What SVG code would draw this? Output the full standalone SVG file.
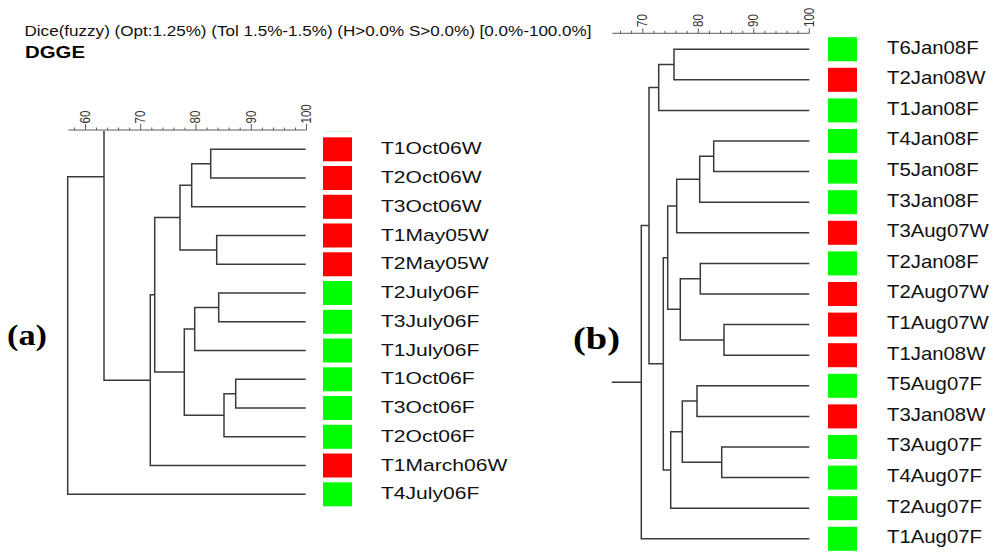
<svg xmlns="http://www.w3.org/2000/svg" width="1000" height="559" viewBox="0 0 1000 559">
<style>
.bg{fill:#ffffff}
.tree{fill:none;stroke:#3a3a3a;stroke-width:1.5}
.axis{fill:none;stroke:#5a5a5a;stroke-width:1}
.tick{font-family:"Liberation Sans",Arial,sans-serif;font-size:11.5px;fill:#333}
.red{fill:#ff0000}
.grn{fill:#00ff00}
.la{font-family:"Liberation Sans",Arial,sans-serif;font-size:17px;fill:#111}
.lb{font-family:"Liberation Sans",Arial,sans-serif;font-size:17.7px;fill:#111}
.hdr{font-family:"Liberation Sans",Arial,sans-serif;font-size:15.4px;fill:#111}
.ttl{font-family:"Liberation Sans",Arial,sans-serif;font-size:17px;font-weight:bold;fill:#000}
.pl{font-family:"Liberation Serif","Times New Roman",serif;font-weight:bold;fill:#000}
</style>
<rect class="bg" x="0" y="0" width="1000" height="559"/>
<g id="header">
<text class="hdr" x="24.5" y="36" textLength="567" lengthAdjust="spacingAndGlyphs">Dice(fuzzy) (Opt:1.25%) (Tol 1.5%-1.5%) (H&gt;0.0% S&gt;0.0%) [0.0%-100.0%]</text>
<text class="ttl" x="25" y="57.5" textLength="60" lengthAdjust="spacingAndGlyphs">DGGE</text>
</g>
<g id="panel-labels">
<text class="pl" x="7" y="345" font-size="29" textLength="40" lengthAdjust="spacingAndGlyphs">(a)</text>
<text class="pl" x="573" y="349" font-size="32" textLength="47" lengthAdjust="spacingAndGlyphs">(b)</text>
</g>
<g id="scale-a">
<path class="axis" d="M68.5,130 H306.5 M74.4,130 v-2.5 M85.5,130 v-6 M96.5,130 v-2.5 M107.6,130 v-2.5 M118.6,130 v-2.5 M129.7,130 v-2.5 M140.7,130 v-6 M151.8,130 v-2.5 M162.9,130 v-2.5 M173.9,130 v-2.5 M185,130 v-2.5 M196,130 v-6 M207.1,130 v-2.5 M218.1,130 v-2.5 M229.2,130 v-2.5 M240.2,130 v-2.5 M251.3,130 v-6 M262.3,130 v-2.5 M273.4,130 v-2.5 M284.4,130 v-2.5 M295.5,130 v-2.5 M306.5,130 v-6"/>
<text class="tick" transform="translate(85.5,123.5) rotate(-90) scale(1,1.2)" y="3.5">60</text>
<text class="tick" transform="translate(140.7,123.5) rotate(-90) scale(1,1.2)" y="3.5">70</text>
<text class="tick" transform="translate(196,123.5) rotate(-90) scale(1,1.2)" y="3.5">80</text>
<text class="tick" transform="translate(251.3,123.5) rotate(-90) scale(1,1.2)" y="3.5">90</text>
<text class="tick" transform="translate(306.5,123.5) rotate(-90) scale(1,1.2)" y="3.5">100</text>
</g>
<g id="scale-b">
<path class="axis" d="M612.3,33.3 H809.3 M620.5,33.3 v-2.5 M631.6,33.3 v-2.5 M642.8,33.3 v-5 M653.9,33.3 v-2.5 M665,33.3 v-2.5 M676.1,33.3 v-2.5 M687.2,33.3 v-2.5 M698.3,33.3 v-5 M709.4,33.3 v-2.5 M720.5,33.3 v-2.5 M731.6,33.3 v-2.5 M742.7,33.3 v-2.5 M753.8,33.3 v-5 M764.9,33.3 v-2.5 M776,33.3 v-2.5 M787.1,33.3 v-2.5 M798.2,33.3 v-2.5 M809.3,33.3 v-5"/>
<text class="tick" transform="translate(642.8,27) rotate(-90) scale(1,1.2)" y="3.7" font-size="12">70</text>
<text class="tick" transform="translate(698.3,27) rotate(-90) scale(1,1.2)" y="3.7" font-size="12">80</text>
<text class="tick" transform="translate(753.8,27) rotate(-90) scale(1,1.2)" y="3.7" font-size="12">90</text>
<text class="tick" transform="translate(809.3,27) rotate(-90) scale(1,1.2)" y="3.7" font-size="12">100</text>
</g>
<g id="connectors">
<path class="tree" d="M305.7,149.3 H210.7 V178 H305.7 M305.7,206.8 H191.7 V163.7 H210.7 M305.7,235.5 H216.7 V264.3 H305.7 M191.7,185.2 H180 V249.9 H216.7 M305.7,293 H218.7 V321.8 H305.7 M305.7,350.5 H194.7 V307.4 H218.7 M305.7,379.3 H235.7 V408 H305.7 M305.7,436.8 H224 V393.7 H235.7 M194.7,329 H184.3 V415.2 H224 M180,217.6 H154.7 V372.1 H184.3 M154.7,294.8 H150.3 V465.5 H305.7 M150.3,380.2 H104 V131 M104,176.7 H67.7 V494.3 H305.7"/>
<path class="tree" d="M809.3,49.2 H674 V79.8 H809.3 M809.3,110.4 H658.7 V64.5 H674 M809.3,141 H713.7 V171.6 H809.3 M809.3,202.2 H699.7 V156.3 H713.7 M809.3,232.8 H676.7 V179.25 H699.7 M809.3,263.4 H700.3 V294 H809.3 M809.3,324.6 H724 V355.2 H809.3 M700.3,278.7 H680.3 V339.9 H724 M676.7,206 H667.7 V309.3 H680.3 M809.3,385.8 H697 V416.4 H809.3 M809.3,447 H721.7 V477.6 H809.3 M697,401.1 H682.3 V462.3 H721.7 M682.3,431.7 H670.7 V508.2 H809.3 M667.7,257.65 H663.3 V469.95 H670.7 M658.7,87.45 H649 V363.8 H663.3 M649,225.6 H641.3 V538.8 H809.3 M641.3,382.2 H611.7"/>
</g>
<rect x="323" y="131" width="29" height="1" fill="#d8ffd8"/>
<g id="a-T1Oct06W"><rect class="red" x="323" y="137.3" width="29" height="24"/><text class="la" transform="translate(381,154.3) scale(1.24,1)">T1Oct06W</text></g>
<g id="a-T2Oct06W"><rect class="red" x="323" y="166" width="29" height="24"/><text class="la" transform="translate(381,183) scale(1.24,1)">T2Oct06W</text></g>
<g id="a-T3Oct06W"><rect class="red" x="323" y="194.8" width="29" height="24"/><text class="la" transform="translate(381,211.8) scale(1.24,1)">T3Oct06W</text></g>
<g id="a-T1May05W"><rect class="red" x="323" y="223.5" width="29" height="24"/><text class="la" transform="translate(381,240.5) scale(1.24,1)">T1May05W</text></g>
<g id="a-T2May05W"><rect class="red" x="323" y="252.3" width="29" height="24"/><text class="la" transform="translate(381,269.3) scale(1.24,1)">T2May05W</text></g>
<g id="a-T2July06F"><rect class="grn" x="323" y="281" width="29" height="24"/><text class="la" transform="translate(381,298) scale(1.24,1)">T2July06F</text></g>
<g id="a-T3July06F"><rect class="grn" x="323" y="309.8" width="29" height="24"/><text class="la" transform="translate(381,326.8) scale(1.24,1)">T3July06F</text></g>
<g id="a-T1July06F"><rect class="grn" x="323" y="338.5" width="29" height="24"/><text class="la" transform="translate(381,355.5) scale(1.24,1)">T1July06F</text></g>
<g id="a-T1Oct06F"><rect class="grn" x="323" y="367.3" width="29" height="24"/><text class="la" transform="translate(381,384.3) scale(1.24,1)">T1Oct06F</text></g>
<g id="a-T3Oct06F"><rect class="grn" x="323" y="396" width="29" height="24"/><text class="la" transform="translate(381,413) scale(1.24,1)">T3Oct06F</text></g>
<g id="a-T2Oct06F"><rect class="grn" x="323" y="424.8" width="29" height="24"/><text class="la" transform="translate(381,441.8) scale(1.24,1)">T2Oct06F</text></g>
<g id="a-T1March06W"><rect class="red" x="323" y="453.5" width="29" height="24"/><text class="la" transform="translate(381,470.5) scale(1.24,1)">T1March06W</text></g>
<g id="a-T4July06F"><rect class="grn" x="323" y="482.3" width="29" height="24"/><text class="la" transform="translate(381,499.3) scale(1.24,1)">T4July06F</text></g>
<g id="b-T6Jan08F"><rect class="grn" x="828" y="37.2" width="29" height="24"/><text class="lb" transform="translate(887,53.5) scale(1.15,1)">T6Jan08F</text></g>
<g id="b-T2Jan08W"><rect class="red" x="828" y="67.8" width="29" height="24"/><text class="lb" transform="translate(887,84.1) scale(1.15,1)">T2Jan08W</text></g>
<g id="b-T1Jan08F"><rect class="grn" x="828" y="98.4" width="29" height="24"/><text class="lb" transform="translate(887,114.7) scale(1.15,1)">T1Jan08F</text></g>
<g id="b-T4Jan08F"><rect class="grn" x="828" y="129" width="29" height="24"/><text class="lb" transform="translate(887,145.3) scale(1.15,1)">T4Jan08F</text></g>
<g id="b-T5Jan08F"><rect class="grn" x="828" y="159.6" width="29" height="24"/><text class="lb" transform="translate(887,175.9) scale(1.15,1)">T5Jan08F</text></g>
<g id="b-T3Jan08F"><rect class="grn" x="828" y="190.2" width="29" height="24"/><text class="lb" transform="translate(887,206.5) scale(1.15,1)">T3Jan08F</text></g>
<g id="b-T3Aug07W"><rect class="red" x="828" y="220.8" width="29" height="24"/><text class="lb" transform="translate(887,237.1) scale(1.15,1)">T3Aug07W</text></g>
<g id="b-T2Jan08F"><rect class="grn" x="828" y="251.4" width="29" height="24"/><text class="lb" transform="translate(887,267.7) scale(1.15,1)">T2Jan08F</text></g>
<g id="b-T2Aug07W"><rect class="red" x="828" y="282" width="29" height="24"/><text class="lb" transform="translate(887,298.3) scale(1.15,1)">T2Aug07W</text></g>
<g id="b-T1Aug07W"><rect class="red" x="828" y="312.6" width="29" height="24"/><text class="lb" transform="translate(887,328.9) scale(1.15,1)">T1Aug07W</text></g>
<g id="b-T1Jan08W"><rect class="red" x="828" y="343.2" width="29" height="24"/><text class="lb" transform="translate(887,359.5) scale(1.15,1)">T1Jan08W</text></g>
<g id="b-T5Aug07F"><rect class="grn" x="828" y="373.8" width="29" height="24"/><text class="lb" transform="translate(887,390.1) scale(1.15,1)">T5Aug07F</text></g>
<g id="b-T3Jan08W"><rect class="red" x="828" y="404.4" width="29" height="24"/><text class="lb" transform="translate(887,420.7) scale(1.15,1)">T3Jan08W</text></g>
<g id="b-T3Aug07F"><rect class="grn" x="828" y="435" width="29" height="24"/><text class="lb" transform="translate(887,451.3) scale(1.15,1)">T3Aug07F</text></g>
<g id="b-T4Aug07F"><rect class="grn" x="828" y="465.6" width="29" height="24"/><text class="lb" transform="translate(887,481.9) scale(1.15,1)">T4Aug07F</text></g>
<g id="b-T2Aug07F"><rect class="grn" x="828" y="496.2" width="29" height="24"/><text class="lb" transform="translate(887,512.5) scale(1.15,1)">T2Aug07F</text></g>
<g id="b-T1Aug07F"><rect class="grn" x="828" y="526.8" width="29" height="24"/><text class="lb" transform="translate(887,543.1) scale(1.15,1)">T1Aug07F</text></g>
</svg>
